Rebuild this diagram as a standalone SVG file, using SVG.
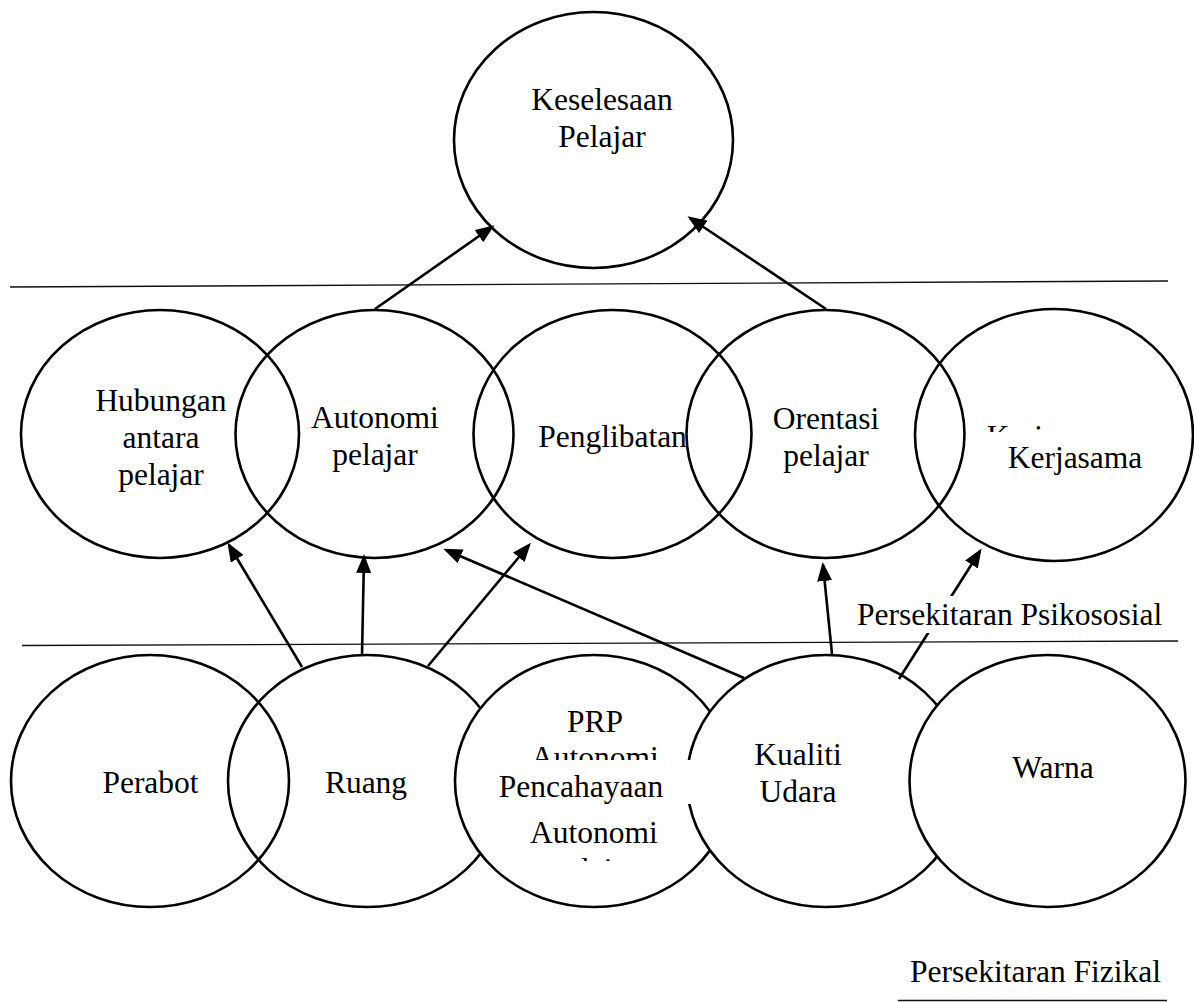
<svg xmlns="http://www.w3.org/2000/svg" width="1194" height="1002" viewBox="0 0 1194 1002">
<style>
.e{stroke:#000;stroke-width:2.6;fill:none}
.ew{stroke:#000;stroke-width:2.6;fill:#fff}
.t{font-family:"Liberation Serif","Times New Roman",serif;font-size:31.5px;fill:#000;text-anchor:middle}
.tl{font-family:"Liberation Serif","Times New Roman",serif;font-size:31.5px;fill:#000;text-anchor:start}
.hl{stroke:#111;stroke-width:1.4;fill:none}
.c{stroke:#000;stroke-width:2.6;fill:none;marker-end:url(#ah)}
</style>
<defs>
<marker id="ah" markerUnits="userSpaceOnUse" markerWidth="19" markerHeight="15" refX="16" refY="7.5" orient="auto">
<path d="M0,0 L19,7.5 L0,15 z" fill="#000"/>
</marker>
<clipPath id="clipKer"><rect x="960" y="380" width="200" height="52"/></clipPath>
<clipPath id="clipPRP"><rect x="480" y="690" width="230" height="70"/></clipPath>
<clipPath id="clipAut"><rect x="480" y="805" width="230" height="56"/></clipPath>
</defs>
<rect width="1194" height="1002" fill="#fff"/>
<g id="dividers">
<line class="hl" x1="10" y1="287" x2="1168" y2="281"/>
<line class="hl" x1="22" y1="645.5" x2="1178" y2="641"/>
<line class="hl" x1="898" y1="1000.5" x2="1167" y2="1000.5"/>
</g>
<g id="keselesaan">
<ellipse class="e" cx="593.5" cy="140" rx="139.5" ry="128"/>
<text class="t" x="602" y="110">Keselesaan</text>
<text class="t" x="602" y="147">Pelajar</text>
</g>
<g id="hubungan">
<ellipse class="e" cx="160" cy="434" rx="139" ry="124"/>
<text class="t" x="161" y="411">Hubungan</text>
<text class="t" x="161" y="448">antara</text>
<text class="t" x="161" y="485">pelajar</text>
</g>
<g id="autonomi">
<ellipse class="e" cx="374.5" cy="434" rx="139" ry="124"/>
<text class="t" x="375" y="428">Autonomi</text>
<text class="t" x="375" y="465">pelajar</text>
</g>
<g id="penglibatan">
<ellipse class="e" cx="612.5" cy="434" rx="139" ry="124"/>
<text class="t" x="612.5" y="447">Penglibatan</text>
</g>
<g id="orentasi">
<ellipse class="e" cx="825.5" cy="434" rx="139" ry="124"/>
<text class="t" x="826" y="429">Orentasi</text>
<text class="t" x="826" y="466">pelajar</text>
</g>
<g id="kerjasama">
<ellipse class="e" cx="1054" cy="435" rx="139" ry="126"/>
<text class="t" x="1054" y="447" clip-path="url(#clipKer)">Kerjasama</text>
<text class="t" x="1075" y="468">Kerjasama</text>
</g>
<g id="perabot">
<ellipse class="e" cx="150" cy="781" rx="139" ry="126"/>
<text class="t" x="150.5" y="793">Perabot</text>
</g>
<g id="ruang">
<ellipse class="e" cx="367" cy="781" rx="139" ry="126"/>
<text class="t" x="366" y="793">Ruang</text>
</g>
<g id="pencahayaan">
<ellipse class="ew" cx="594" cy="781" rx="139" ry="126"/>
<g clip-path="url(#clipPRP)">
<text class="t" x="595" y="732">PRP</text>
<text class="t" x="595" y="768">Autonomi</text>
</g>
<g clip-path="url(#clipAut)">
<text class="t" x="594" y="843">Autonomi</text>
<text class="t" x="594" y="880">pelajar</text>
</g>
</g>
<g id="kualiti">
<ellipse class="ew" cx="826" cy="781" rx="139" ry="126"/>
<text class="t" x="798" y="765">Kualiti</text>
<text class="t" x="798" y="802">Udara</text>
</g>
<g id="pencahayaan-label">
<rect x="495" y="760" width="197" height="44" fill="#fff"/>
<text class="t" x="581" y="797">Pencahayaan</text>
</g>
<g id="warna">
<ellipse class="ew" cx="1047.5" cy="781" rx="138" ry="126"/>
<text class="t" x="1053" y="778">Warna</text>
</g>
<g id="connectors">
<line class="c" x1="375" y1="309" x2="492" y2="227"/>
<line class="c" x1="826" y1="309" x2="690" y2="218"/>
<line class="c" x1="302" y1="667" x2="229" y2="545"/>
<line class="c" x1="362" y1="655" x2="364" y2="557"/>
<line class="c" x1="428" y1="666" x2="529" y2="545"/>
<line class="c" x1="744" y1="678" x2="446" y2="550"/>
<line class="c" x1="832" y1="654" x2="823" y2="565"/>
<line class="c" x1="899" y1="679" x2="980" y2="551"/>
</g>
<g id="label-psikososial">
<rect x="855" y="596" width="313" height="37" fill="#fff"/>
<text class="tl" x="857" y="625">Persekitaran Psikososial</text>
</g>
<g id="label-fizikal">
<text class="tl" x="910" y="982">Persekitaran Fizikal</text>
</g>
</svg>
